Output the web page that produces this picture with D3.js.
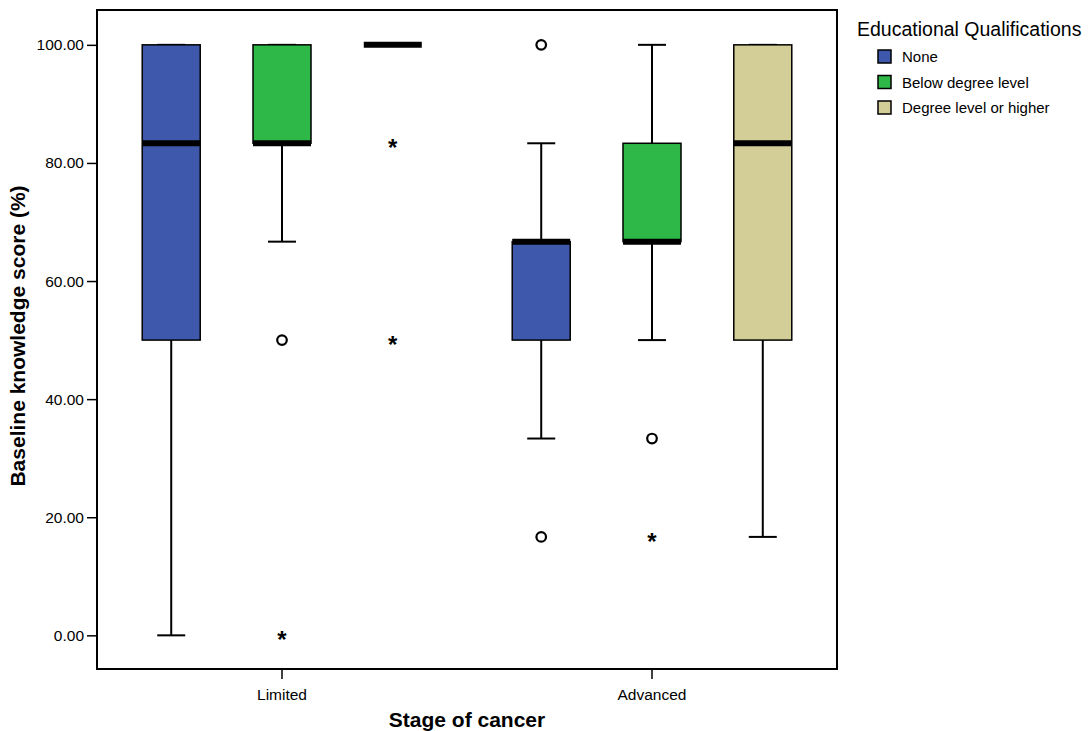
<!DOCTYPE html>
<html>
<head>
<meta charset="utf-8">
<script src="https://cdn.jsdelivr.net/npm/d3@7"></script>
<style>
  body { margin: 0; background: #fff; }
  text { font-family: "Liberation Sans", Arial, sans-serif; fill: #000; }
</style>
</head>
<body>
<script>
// data, indexed [stage][group]
const stages = ["Limited", "Advanced"];
const groups = ["None", "Below degree level", "Degree level or higher"];
const groupColors = ["#3e58ac", "#2eb848", "#d3ce97"];
const whiskerLow  = [[0, 66.67, 100], [33.33, 50, 16.67]];
const boxLow      = [[50, 83.33, 100], [50, 66.67, 50]];
const medians     = [[83.33, 83.33, 100], [66.67, 66.67, 83.33]];
const boxHigh     = [[100, 100, 100], [66.67, 83.33, 100]];
const whiskerHigh = [[100, 100, 100], [83.33, 100, 100]];
const circleOutliers = [[[], [50], []], [[100, 16.67], [33.33], []]];
const starOutliers   = [[[], [0], [83.33, 50]], [[], [16.67], []]];
const yTicks = [0, 20, 40, 60, 80, 100];

const W = 1089, H = 731;
const margin = {top: 10, right: 252, bottom: 62, left: 97};
const width = W - margin.left - margin.right,
      height = H - margin.top - margin.bottom;

const svg = d3.select("body").append("svg")
  .attr("width", W).attr("height", H);

const g = svg.append("g")
  .attr("transform", "translate(" + margin.left + "," + margin.top + ")");

const y = d3.scaleLinear().domain([-5.7, 105.9]).range([height, 0]);
const x = d3.scaleBand().domain(stages).range([0, width]).paddingInner(0).paddingOuter(0);
const xSub = d3.scalePoint().domain(groups).range([0, x.bandwidth()]).padding(0.67);
const boxW = 58, capW = 28;

// frame
g.append("rect")
  .attr("width", width).attr("height", height)
  .attr("fill", "none").attr("stroke", "#000").attr("stroke-width", 2);

// y axis
const yAxis = g.append("g")
  .call(d3.axisLeft(y).tickValues(yTicks).tickFormat(d3.format(".2f")).tickSize(10).tickPadding(3));
yAxis.select(".domain").remove();
yAxis.selectAll("line").attr("stroke", "#000").attr("stroke-width", 1.5);
yAxis.selectAll("text").attr("font-size", 15.5).attr("font-family", "Liberation Sans, Arial, sans-serif");

// x axis
const xAxis = g.append("g")
  .attr("transform", "translate(0," + height + ")")
  .call(d3.axisBottom(x).tickSize(10).tickPadding(10));
xAxis.select(".domain").remove();
xAxis.selectAll("line").attr("stroke", "#000").attr("stroke-width", 1.5);
xAxis.selectAll("text").attr("font-size", 15.5).attr("font-family", "Liberation Sans, Arial, sans-serif");

// boxes
stages.forEach(function(s, si) {
  groups.forEach(function(gr, gi) {
    const cx = x(s) + xSub(gr);
    const bg = g.append("g");
    // whiskers
    bg.append("line")
      .attr("x1", cx).attr("x2", cx)
      .attr("y1", y(whiskerLow[si][gi])).attr("y2", y(whiskerHigh[si][gi]))
      .attr("stroke", "#000").attr("stroke-width", 2);
    [whiskerLow[si][gi], whiskerHigh[si][gi]].forEach(function(v) {
      bg.append("line")
        .attr("x1", cx - capW / 2).attr("x2", cx + capW / 2)
        .attr("y1", y(v)).attr("y2", y(v))
        .attr("stroke", "#000").attr("stroke-width", 2);
    });
    // box
    if (boxHigh[si][gi] > boxLow[si][gi]) {
      bg.append("rect")
        .attr("x", cx - boxW / 2).attr("width", boxW)
        .attr("y", y(boxHigh[si][gi]))
        .attr("height", y(boxLow[si][gi]) - y(boxHigh[si][gi]))
        .attr("fill", groupColors[gi]).attr("stroke", "#000").attr("stroke-width", 1.5);
    }
    // median
    bg.append("line")
      .attr("x1", cx - boxW / 2).attr("x2", cx + boxW / 2)
      .attr("y1", y(medians[si][gi])).attr("y2", y(medians[si][gi]))
      .attr("stroke", "#000").attr("stroke-width", 6);
    // outliers
    circleOutliers[si][gi].forEach(function(v) {
      bg.append("circle")
        .attr("cx", cx).attr("cy", y(v)).attr("r", 4.8)
        .attr("fill", "#fff").attr("stroke", "#000").attr("stroke-width", 2.2);
    });
    starOutliers[si][gi].forEach(function(v) {
      bg.append("text")
        .attr("x", cx).attr("y", y(v) + 13)
        .attr("text-anchor", "middle")
        .attr("font-size", 24).attr("font-weight", "bold")
        .text("*");
    });
  });
});

// axis titles
svg.append("text")
  .attr("x", margin.left + width / 2).attr("y", 727)
  .attr("text-anchor", "middle")
  .attr("font-size", 21).attr("font-weight", "bold")
  .text("Stage of cancer");

svg.append("text")
  .attr("transform", "translate(25,336) rotate(-90)")
  .attr("text-anchor", "middle")
  .attr("font-size", 21).attr("font-weight", "bold")
  .text("Baseline knowledge score (%)");

// legend
const legend = svg.append("g").attr("transform", "translate(857,0)");
legend.append("text")
  .attr("x", 0).attr("y", 36)
  .attr("font-size", 19.5)
  .text("Educational Qualifications");
groups.forEach(function(gr, i) {
  const row = legend.append("g").attr("transform", "translate(21," + (50 + i * 25.5) + ")");
  row.append("rect")
    .attr("width", 13).attr("height", 13)
    .attr("fill", groupColors[i]).attr("stroke", "#000").attr("stroke-width", 1.5);
  row.append("text")
    .attr("x", 24).attr("y", 12)
    .attr("font-size", 15)
    .text(gr);
});
</script>
</body>
</html>
